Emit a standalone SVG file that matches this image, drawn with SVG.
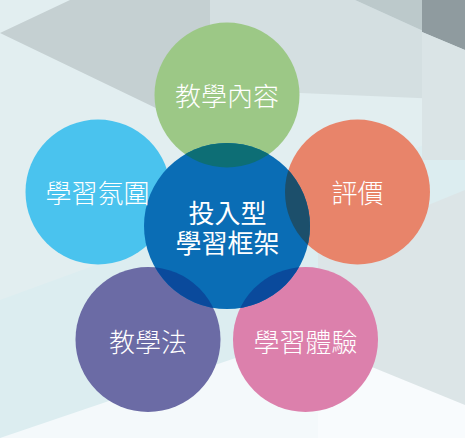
<svg xmlns="http://www.w3.org/2000/svg" width="465" height="438" viewBox="0 0 465 438">
<defs>
<style>
.lbl{font-family:"Noto Sans CJK TC","Noto Sans CJK SC",sans-serif;font-size:26px;fill:#ffffff;text-anchor:middle;font-weight:300}
.ctr{font-weight:400}
</style>
<clipPath id="cc"><circle cx="227" cy="226" r="83"/></clipPath>
</defs>
<g id="background">
<rect width="465" height="438" fill="#E2EEF0"/>
<polygon points="0,300 465,130 465,438 0,438" fill="#DCEDF0"/>
<polygon points="95,438 465,300 465,438" fill="#F8FBFD"/>
<polygon points="0,438 318,330 318,438" fill="#F4F9FB"/>
<polygon points="70,0 210,0 210,150 160,110 0,33" fill="#C5D0D2"/>
<polygon points="210,0 355,0 465,50 465,100 300,93 210,150" fill="#D4DFE1"/>
<polygon points="355,0 465,0 465,50" fill="#BCC9CB"/>
<polygon points="422,0 465,0 465,50 422,32" fill="#8F9B9F"/>
<polygon points="422,32 465,50 465,160 422,160" fill="#DAE4E6"/>
<polygon points="318,250 465,190 465,405 318,345" fill="#DCE5E7"/>
</g>
<g id="node-content">
<circle cx="227" cy="95" r="72.5" fill="#9CC886"/>
<text class="lbl" x="227" y="106">教學內容</text>
</g>
<g id="node-atmosphere">
<circle cx="98" cy="192" r="72.5" fill="#4AC3EE"/>
</g>
<g id="node-assessment">
<circle cx="357.5" cy="192" r="72.5" fill="#E8846A"/>
<text class="lbl" x="357.5" y="203">評價</text>
</g>
<g id="node-pedagogy">
<circle cx="148" cy="339.5" r="72.5" fill="#6B6BA5"/>
<text class="lbl" x="148" y="352">教學法</text>
</g>
<g id="node-experience">
<circle cx="305.5" cy="339.5" r="72.5" fill="#DC80AC"/>
<text class="lbl" x="305.5" y="352">學習體驗</text>
</g>
<g id="node-center">
<circle cx="227" cy="226" r="83" fill="#0A6DB5"/>
<g clip-path="url(#cc)">
<circle cx="227" cy="95" r="72.5" fill="#0D6E75"/>
<circle cx="357.5" cy="192" r="72.5" fill="#1C4F6B"/>
<circle cx="148" cy="339.5" r="72.5" fill="#0A4A9C"/>
<circle cx="305.5" cy="339.5" r="72.5" fill="#0A4A9C"/>
</g>
<text class="lbl ctr"><tspan x="227.5" y="223">投入型</tspan><tspan x="227.5" y="253">學習框架</tspan></text>
</g>
<text class="lbl" x="97.5" y="203">學習氛圍</text>
</svg>
